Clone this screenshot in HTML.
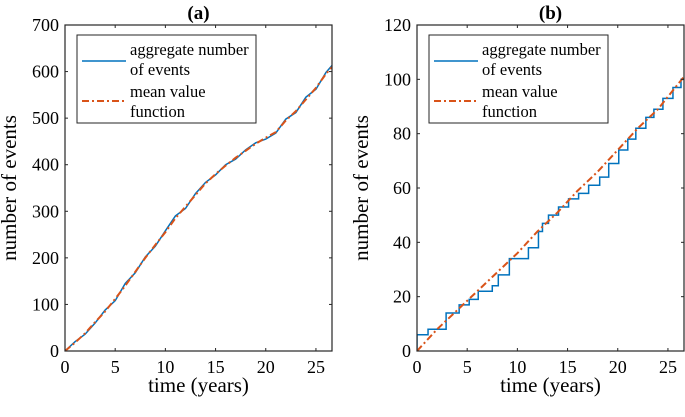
<!DOCTYPE html>
<html><head><meta charset="utf-8"><style>
body{margin:0;background:#fff}
svg text{font-family:"Liberation Serif",serif;fill:#000}
</style></head><body>
<svg width="685" height="412" id="fig">
</svg>
<script>
const xTicks=[0,5,10,15,20,25];
const yTicksA=[0,100,200,300,400,500,600,700];
const yTicksB=[0,20,40,60,80,100,120];
const meanTA=[0,1,2,3,4,5,6,7,8,9,10,11,12,13,14,15,16,17,18,19,20,21,22,23,24,25,26,26.6];
const meanA=[0,18,38,62,85,112,140,170,200,228,255,285,310,335,360,380,398,415,430,445,458,470,495,515,540,565,595,610];
const aggTA=[0,1,2,3,4,5,6,7,8,9,10,11,12,13,14,15,16,17,18,19,20,21,22,23,24,25,26,26.6];
const aggA=[0,20,36,60,88,108,145,168,202,225,258,290,306,338,362,378,400,412,432,447,455,468,498,512,545,562,598,613];
const stepT=[0,1.1,2.9,4.2,5.2,6.1,7.5,8.1,9.2,11.1,12.1,12.5,13.1,14.1,15.1,16.1,17.1,18.2,19.1,20.1,21,21.8,22.8,23.6,24.5,25.5,26.3];
const stepN=[6,8,14,17,19,22,24,28,34,38,44,47,50,53,56,58,61,64,69,74,78,82,86,89,93,97,100];
const meanTB=[0,2,4,6,8,10,12,14,16,18,20,22,24,26.6];
const meanB=[0,8,15,22,29,36,44,51,59,66,74,82,89,101];
const svg=document.getElementById('fig');const NS='http://www.w3.org/2000/svg';
const DASH='7 3 2 3';
function mk(t,a,p){const e=document.createElementNS(NS,t);for(const k in a)e.setAttribute(k,a[k]);(p||svg).appendChild(e);return e;}
function panel(id,L,ymax,yt,title,series){
 const R=L+267,T=25,B=351,xmax=26.6;
 const X=v=>L+v/xmax*(R-L),Y=v=>B-v/ymax*(B-T);
 const g=mk('g',{});
 const cp=mk('clipPath',{id:'c'+id},g);mk('rect',{x:L,y:T,width:R-L,height:B-T},cp);
 const sg=mk('g',{'clip-path':'url(#c'+id+')'},g);
 series(sg,X,Y);
 const fr=mk('rect',{x:L,y:T,width:R-L,height:B-T,fill:'none',stroke:'#262626','stroke-width':1.2},g);
 
 xTicks.forEach(v=>{mk('line',{x1:X(v),x2:X(v),y1:B,y2:B-3,stroke:'#262626'},g);mk('line',{x1:X(v),x2:X(v),y1:T,y2:T+3,stroke:'#262626'},g);
  const t=mk('text',{x:X(v),y:B+22,'text-anchor':'middle','font-size':18},g);t.textContent=v;});
 yt.forEach(v=>{mk('line',{x1:L,x2:L+3,y1:Y(v),y2:Y(v),stroke:'#262626'},g);mk('line',{x1:R,x2:R-3,y1:Y(v),y2:Y(v),stroke:'#262626'},g);
  const t=mk('text',{x:L-6,y:Y(v)+6,'text-anchor':'end','font-size':18},g);t.textContent=v;});
 const tt=mk('text',{x:(L+R)/2,y:19,'text-anchor':'middle','font-size':19,'font-weight':'bold'},g);tt.textContent=title;
 const xl=mk('text',{x:(L+R)/2,y:392,'text-anchor':'middle','font-size':21},g);xl.textContent='time (years)';
 const yx=L-49;const yl=mk('text',{x:0,y:0,transform:`translate(${yx},188) rotate(-90)`,'text-anchor':'middle','font-size':21},g);yl.textContent='number of events';
 const lg=mk('g',{},g);
 mk('rect',{x:L+12,y:35,width:179,height:88,fill:'#fff',stroke:'#262626'},lg);
 mk('line',{x1:L+17,x2:L+61,y1:61,y2:61,stroke:'#0072BD','stroke-width':1.5},lg);
 mk('line',{x1:L+17,x2:L+61,y1:101,y2:101,stroke:'#D95319','stroke-width':2,'stroke-dasharray':DASH},lg);
 [['aggregate number',55],['of events',75],['mean value',97],['function',117]].forEach(([s,y])=>{const t=mk('text',{x:L+65,y:y,'font-size':16.5},lg);t.textContent=s;});
}
panel('a',65,700,yTicksA,'(a)',(g,X,Y)=>{
 const p1=mk('polyline',{points:aggTA.map((t,i)=>X(t)+','+Y(aggA[i])).join(' '),fill:'none',stroke:'#0072BD','stroke-width':1.5},g);
 
 const p2=mk('polyline',{points:meanTA.map((t,i)=>X(t)+','+Y(meanA[i])).join(' '),fill:'none',stroke:'#D95319','stroke-width':2,'stroke-dasharray':DASH},g);
 
});
panel('b',417,120,yTicksB,'(b)',(g,X,Y)=>{
 let pts=[X(0)+','+Y(0)];let prev=0;
 stepT.forEach((t,i)=>{pts.push(X(t)+','+Y(prev));pts.push(X(t)+','+Y(stepN[i]));prev=stepN[i];});
 pts.push(X(27)+','+Y(prev));
 const p1=mk('polyline',{points:pts.join(' '),fill:'none',stroke:'#0072BD','stroke-width':1.5},g);
 
 const p2=mk('polyline',{points:meanTB.map((t,i)=>X(t)+','+Y(meanB[i])).join(' '),fill:'none',stroke:'#D95319','stroke-width':2,'stroke-dasharray':DASH},g);
 
});
</script>
</body></html>
